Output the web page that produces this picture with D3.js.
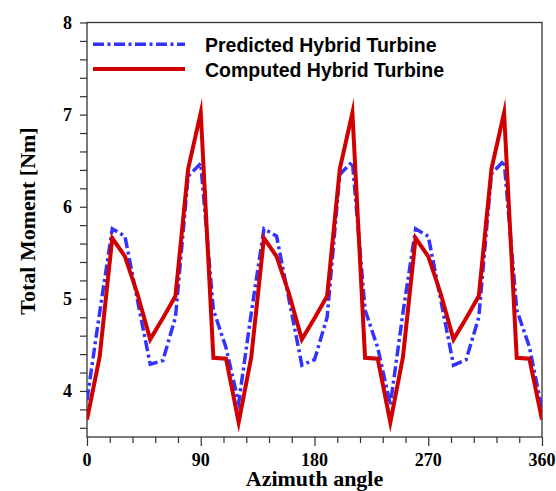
<!DOCTYPE html>
<html>
<head>
<meta charset="utf-8">
<script src="https://d3js.org/d3.v7.min.js"></script>
<style>
  body { margin: 0; background: white; }
</style>
</head>
<body>
<div id="my_dataviz"></div>
<script>

// azimuth angles (deg) and the two moment series
var angles = [0, 10, 20, 30, 40, 50, 60, 70, 80, 90, 100, 110,
              120, 130, 140, 150, 160, 170, 180, 190, 200, 210, 220, 230,
              240, 250, 260, 270, 280, 290, 300, 310, 320, 330, 340, 350, 360];

var predicted = [3.90, 4.85, 5.76, 5.68, 4.98, 4.29, 4.33, 4.80, 6.33, 6.47, 4.88, 4.47,
                 3.87, 4.85, 5.76, 5.68, 4.98, 4.28, 4.34, 4.80, 6.35, 6.49, 4.88, 4.47,
                 3.85, 4.85, 5.76, 5.68, 4.98, 4.28, 4.34, 4.80, 6.36, 6.50, 4.88, 4.48, 3.80];

var computed = [3.69, 4.37, 5.66, 5.46, 5.05, 4.56, 4.79, 5.03, 6.41, 7.02, 4.36, 4.35,
                3.66, 4.37, 5.66, 5.46, 5.05, 4.56, 4.79, 5.03, 6.41, 7.02, 4.36, 4.35,
                3.66, 4.37, 5.66, 5.46, 5.05, 4.56, 4.79, 5.03, 6.41, 7.02, 4.36, 4.35, 3.69];

var seriesNames = ["Predicted Hybrid Turbine", "Computed Hybrid Turbine"];

var xTicks = [0, 18, 36, 54, 72, 90, 108, 126, 144, 162, 180, 198, 216, 234, 252, 270, 288, 306, 324, 342, 360];
var xLabels = [0, 90, 180, 270, 360];
var yTicks = [3.6, 3.8, 4, 4.2, 4.4, 4.6, 4.8, 5, 5.2, 5.4, 5.6, 5.8, 6, 6.2, 6.4, 6.6, 6.8, 7, 7.2, 7.4, 7.6, 7.8, 8];
var yLabels = [4, 5, 6, 7, 8];

// set the dimensions and margins of the graph
var margin = {top: 22.5, right: 14, bottom: 54, left: 87},
  width = 556 - margin.left - margin.right,
  height = 491 - margin.top - margin.bottom;

var svg = d3.select("#my_dataviz")
.append("svg")
  .attr("width", width + margin.left + margin.right)
  .attr("height", height + margin.top + margin.bottom)
.append("g")
  .attr("transform", "translate(" + margin.left + "," + margin.top + ")");

var x = d3.scaleLinear().domain([0, 360]).range([0, width]);
var y = d3.scaleLinear().domain([3.5, 8]).range([height, 0]);

var axisColor = "#333";
var serif = "'Liberation Serif', 'Times New Roman', serif";
var sans = "'Liberation Sans', Arial, sans-serif";

// frame
svg.append("rect")
  .attr("x", 0).attr("y", 0)
  .attr("width", width).attr("height", height)
  .attr("fill", "none")
  .attr("stroke", axisColor)
  .attr("stroke-width", 1.3);

// x axis: minor ticks every 18 deg, longer ticks at the labelled ones
var xAxis = svg.append("g")
  .attr("transform", "translate(0," + height + ")")
  .call(d3.axisBottom(x).tickValues(xTicks).tickSize(6).tickFormat(""));
xAxis.select(".domain").remove();
xAxis.selectAll(".tick line")
  .attr("stroke", axisColor)
  .attr("stroke-width", 1.2)
  .attr("y2", function(d){ return xLabels.indexOf(d) >= 0 ? 9 : 6 });

svg.selectAll("text.xlab")
  .data(xLabels)
  .enter()
  .append("text")
    .attr("class", "xlab")
    .attr("x", function(d){ return x(d) })
    .attr("y", height + 28.5)
    .attr("text-anchor", "middle")
    .attr("font-family", serif)
    .attr("font-weight", "bold")
    .attr("font-size", 18)
    .text(function(d){ return d });

// y axis
var yAxis = svg.append("g")
  .call(d3.axisLeft(y).tickValues(yTicks).tickSize(7).tickFormat(""));
yAxis.select(".domain").remove();
yAxis.selectAll(".tick line")
  .attr("stroke", axisColor)
  .attr("stroke-width", 1.2);

svg.selectAll("text.ylab")
  .data(yLabels)
  .enter()
  .append("text")
    .attr("class", "ylab")
    .attr("x", -15)
    .attr("y", function(d){ return y(d) + 6 })
    .attr("text-anchor", "end")
    .attr("font-family", serif)
    .attr("font-weight", "bold")
    .attr("font-size", 18)
    .text(function(d){ return d });

// axis titles
svg.append("text")
  .attr("x", width / 2)
  .attr("y", height + 49)
  .attr("text-anchor", "middle")
  .attr("font-family", serif)
  .attr("font-weight", "bold")
  .attr("font-size", 22)
  .text("Azimuth angle");

svg.append("text")
  .attr("transform", "translate(" + (35 - margin.left) + "," + (221 - margin.top) + ") rotate(-90)")
  .attr("text-anchor", "middle")
  .attr("font-family", serif)
  .attr("font-weight", "bold")
  .attr("font-size", 22)
  .text("Total Moment [Nm]");

// lines
var line = d3.line()
  .x(function(d, i){ return x(angles[i]) })
  .y(function(d){ return y(d) });

svg.append("clipPath").attr("id", "plotclip")
  .append("rect").attr("x", 0).attr("y", 0).attr("width", width).attr("height", height + 1);

var plot = svg.append("g").attr("clip-path", "url(#plotclip)");

plot.append("path")
  .datum(predicted)
  .attr("d", line)
  .attr("fill", "none")
  .attr("stroke", "#3333ff")
  .attr("stroke-width", 3.5)
  .attr("stroke-dasharray", "11,3.5,3,3.5")
  .attr("stroke-miterlimit", 10);

plot.append("path")
  .datum(computed)
  .attr("d", line)
  .attr("fill", "none")
  .attr("stroke", "#d00000")
  .attr("stroke-width", 4)
  .attr("stroke-miterlimit", 10);

// legend
var legend = svg.append("g");
var legendY = [44.3 - margin.top, 69 - margin.top];

legend.append("line")
  .attr("x1", 93 - margin.left).attr("x2", 185 - margin.left)
  .attr("y1", legendY[0]).attr("y2", legendY[0])
  .attr("stroke", "#3333ff")
  .attr("stroke-width", 3.5)
  .attr("stroke-dasharray", "11,3.5,3,3.5");

legend.append("line")
  .attr("x1", 93 - margin.left).attr("x2", 185 - margin.left)
  .attr("y1", legendY[1]).attr("y2", legendY[1])
  .attr("stroke", "#d00000")
  .attr("stroke-width", 4);

legend.selectAll("text")
  .data(seriesNames)
  .enter()
  .append("text")
    .attr("x", 205 - margin.left)
    .attr("y", function(d, i){ return legendY[i] + 7.5 })
    .attr("font-family", sans)
    .attr("font-weight", "bold")
    .attr("font-size", 19.5)
    .text(function(d){ return d });

</script>
</body>
</html>
